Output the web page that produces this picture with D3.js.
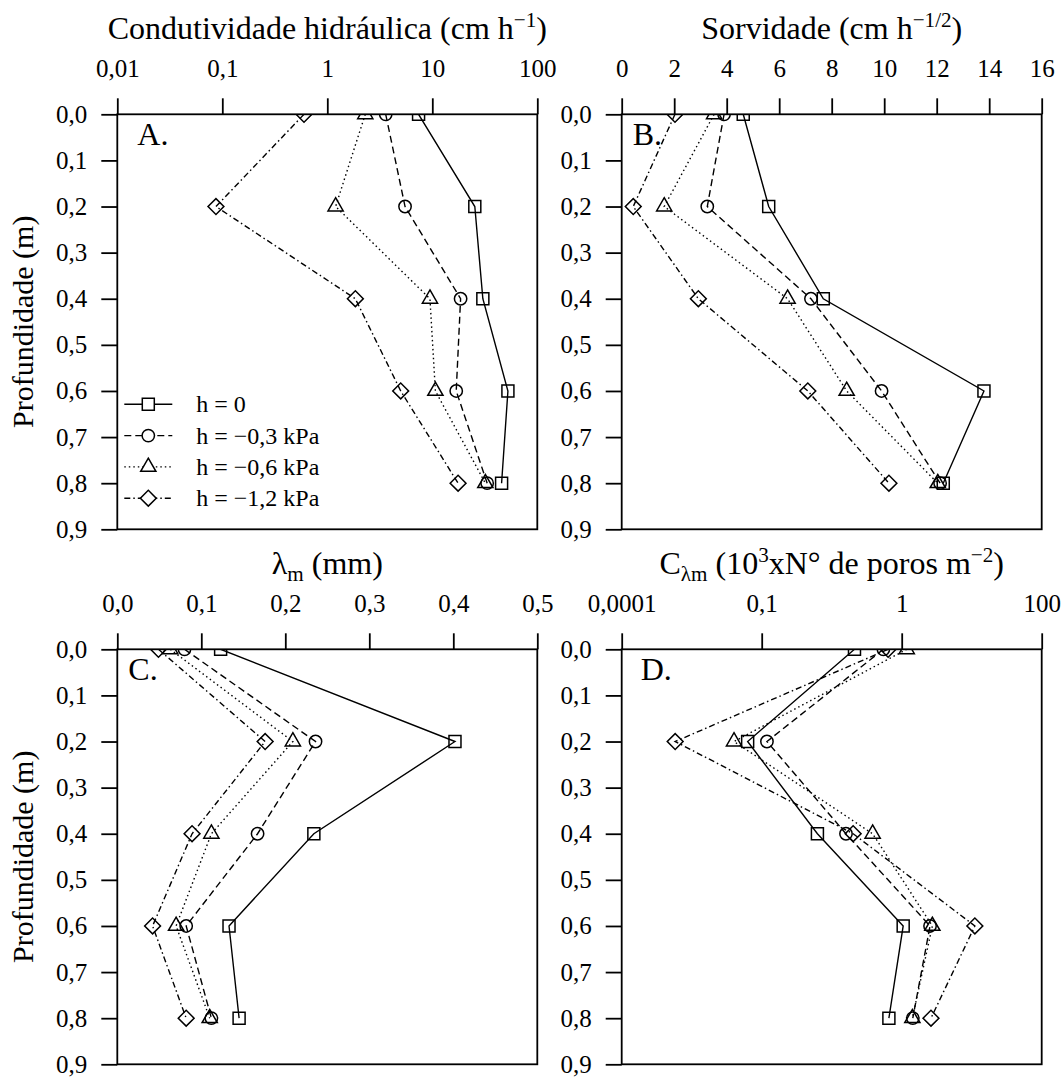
<!DOCTYPE html>
<html>
<head>
<meta charset="utf-8">
<script src="https://cdn.jsdelivr.net/npm/d3@7"></script>
<style>
  body { margin: 0; background: #fff; }
  svg text { font-family: "Liberation Serif", "Times New Roman", serif; fill: #000; }
</style>
</head>
<body>
<svg id="chart" width="1064" height="1077"></svg>
<script>
// depths (m) and series
const depth = [0, 0.2, 0.4, 0.6, 0.8];
const seriesNames = ["h = 0", "h = \u22120,3 kPa", "h = \u22120,6 kPa", "h = \u22121,2 kPa"];

// values per series (h = 0, -0,3, -0,6, -1,2 kPa), one entry per depth
const condutividade = [
  [7.4, 25.4, 30.3, 52.5, 45.7],
  [3.6, 5.5, 18.6, 16.9, 33.3],
  [2.3, 1.2, 9.5, 10.7, 32.0],
  [0.6, 0.087, 1.85, 5.0, 17.6]
];
const sorvidade = [
  [4.63, 5.6, 7.68, 13.8, 12.25],
  [3.9, 3.26, 7.21, 9.9, 12.13],
  [3.52, 1.62, 6.32, 8.57, 12.04],
  [2.03, 0.44, 2.92, 7.09, 10.18]
];
const lambdaM = [
  [0.123, 0.402, 0.234, 0.133, 0.145],
  [0.080, 0.236, 0.167, 0.082, 0.112],
  [0.063, 0.209, 0.112, 0.070, 0.110],
  [0.049, 0.176, 0.089, 0.042, 0.082]
];
const cLambda = [
  [0.46, 0.050, 0.25, 1.05, 0.81],
  [0.74, 0.109, 0.40, 2.54, 1.44],
  [1.18, 0.0255, 0.62, 2.74, 1.42],
  [0.80, 0.0014, 0.45, 11.1, 2.62]
];

// tick values and labels
const depthTicks = [0, 0.1, 0.2, 0.3, 0.4, 0.5, 0.6, 0.7, 0.8, 0.9];
const depthLabels = ["0,0", "0,1", "0,2", "0,3", "0,4", "0,5", "0,6", "0,7", "0,8", "0,9"];
const kTicks = [0.01, 0.1, 1, 10, 100];
const kLabels = ["0,01", "0,1", "1", "10", "100"];
const sTicks = [0, 2, 4, 6, 8, 10, 12, 14, 16];
const sLabels = ["0", "2", "4", "6", "8", "10", "12", "14", "16"];
const lTicks = [0, 0.1, 0.2, 0.3, 0.4, 0.5];
const lLabels = ["0,0", "0,1", "0,2", "0,3", "0,4", "0,5"];
const cTicks = [0.0001, 0.1, 1, 100];
const cLabels = ["0,0001", "0,1", "1", "100"];

const W = 420, H = 415;
const svg = d3.select("#chart");

// line style + marker per series
const dashes = [null, "7,4", "1.5,3", "6,3,1.5,3"];
const symbols = [
  { type: d3.symbolSquare, size: 144, rot: 0 },
  { type: d3.symbolCircle, size: 120, rot: 0 },
  { type: d3.symbolTriangle, size: 100, rot: 0 },
  { type: d3.symbolSquare, size: 126, rot: 45 }
];

const panels = [
  {
    key: "A", left: 117.3, top: 114.3, labelDx: 20, values: condutividade,
    x: d3.scaleLog().domain([0.01, 100]).range([0, W]),
    ticks: kTicks, labels: kLabels, yTitle: true, legend: true,
    title: [{ t: "Condutividade hidráulica (cm h" }, { t: "\u22121", sup: true }, { t: ")" }]
  },
  {
    key: "B", left: 621.7, top: 114.3, labelDx: 11, values: sorvidade,
    x: d3.scaleLinear().domain([0, 16]).range([0, W]),
    ticks: sTicks, labels: sLabels,
    title: [{ t: "Sorvidade (cm h" }, { t: "\u22121/2", sup: true }, { t: ")" }]
  },
  {
    key: "C", left: 117.3, top: 649.3, labelDx: 11, values: lambdaM,
    x: d3.scaleLinear().domain([0, 0.5]).range([0, W]),
    ticks: lTicks, labels: lLabels, yTitle: true,
    title: [{ t: "\u03bb" }, { t: "m", sub: true }, { t: " (mm)" }]
  },
  {
    key: "D", left: 621.7, top: 649.3, labelDx: 19, values: cLambda,
    // axis as printed: equally spaced ticks 0,0001 / 0,1 / 1 / 100
    x: d3.scaleLog().domain([0.0001, 0.1, 1, 100]).range([0, W / 3, 2 * W / 3, W]),
    ticks: cTicks, labels: cLabels,
    title: [{ t: "C" }, { t: "\u03bbm", sub: true }, { t: " (10" }, { t: "3", sup: true },
            { t: "xN\u00b0 de poros m" }, { t: "\u22122", sup: true }, { t: ")" }]
  }
];

function richText(sel, parts, size) {
  let shift = 0;
  parts.forEach((p) => {
    const target = p.sup ? -size * 0.4 : p.sub ? size * 0.22 : 0;
    sel.append("tspan")
      .attr("dy", target - shift)
      .style("font-size", p.sup || p.sub ? size * 0.66 + "px" : null)
      .text(p.t);
    shift = target;
  });
}

const y = d3.scaleLinear().domain([0, 0.9]).range([0, H]);

panels.forEach((p) => {
  const g = svg.append("g").attr("transform", `translate(${p.left},${p.top})`);

  g.append("clipPath").attr("id", "clip" + p.key)
    .append("rect").attr("width", W).attr("height", H);

  // frame
  g.append("rect")
    .attr("width", W).attr("height", H)
    .attr("fill", "none").attr("stroke", "#000").attr("stroke-width", 1.8);

  const xAxis = g.append("g")
    .call(d3.axisTop(p.x).tickValues(p.ticks)
      .tickFormat((d, i) => p.labels[i])
      .tickSize(16).tickSizeOuter(0).tickPadding(21));
  const yAxis = g.append("g")
    .call(d3.axisLeft(y).tickValues(depthTicks)
      .tickFormat((d, i) => depthLabels[i])
      .tickSize(16).tickSizeOuter(0).tickPadding(14));

  [xAxis, yAxis].forEach((a) => {
    a.select(".domain").remove();
    a.selectAll(".tick line").attr("stroke", "#000").attr("stroke-width", 1.8);
    a.selectAll(".tick text")
      .style("font-family", '"Liberation Serif", "Times New Roman", serif')
      .style("font-size", "25px").attr("fill", "#000");
  });

  // axis title
  richText(
    svg.append("text")
      .attr("x", p.left + W / 2).attr("y", p.top - 75)
      .attr("text-anchor", "middle").style("font-size", "32px"),
    p.title, 32
  );

  if (p.yTitle) {
    svg.append("text")
      .attr("transform", `translate(33,${p.top + H / 2}) rotate(-90)`)
      .attr("text-anchor", "middle").style("font-size", "30px")
      .text("Profundidade (m)");
  }

  g.append("text")
    .attr("x", p.labelDx).attr("y", 31)
    .style("font-size", "32px")
    .text(p.key + ".");

  const plot = g.append("g").attr("clip-path", `url(#clip${p.key})`);
  const line = d3.line().x((d) => p.x(d[0])).y((d) => y(d[1]));

  p.values.forEach((vals, s) => {
    const pts = vals.map((v, i) => [v, depth[i]]);
    plot.append("path")
      .attr("d", line(pts))
      .attr("fill", "none").attr("stroke", "#000")
      .attr("stroke-width", 1.4)
      .attr("stroke-dasharray", dashes[s]);

    plot.selectAll(".m" + s)
      .data(pts)
      .join("path")
      .attr("class", "m" + s)
      .attr("transform", (d) => `translate(${p.x(d[0])},${y(d[1])}) rotate(${symbols[s].rot})`)
      .attr("d", d3.symbol().type(symbols[s].type).size(symbols[s].size))
      .attr("fill", "none").attr("stroke", "#000").attr("stroke-width", 1.5);
  });

  if (p.legend) {
    const lg = g.append("g").attr("transform", "translate(7,290)");
    seriesNames.forEach((name, s) => {
      const row = lg.append("g").attr("transform", `translate(0,${s * 31.3})`);
      row.append("line")
        .attr("x1", 0).attr("x2", 48)
        .attr("stroke", "#000").attr("stroke-width", 1.4)
        .attr("stroke-dasharray", dashes[s]);
      row.append("path")
        .attr("transform", `translate(24,0) rotate(${symbols[s].rot})`)
        .attr("d", d3.symbol().type(symbols[s].type).size(symbols[s].size))
        .attr("fill", "#fff").attr("stroke", "#000").attr("stroke-width", 1.5);
      row.append("text")
        .attr("x", 72).attr("dy", "0.33em")
        .style("font-size", "24px")
        .text(name);
    });
  }
});
</script>
</body>
</html>
